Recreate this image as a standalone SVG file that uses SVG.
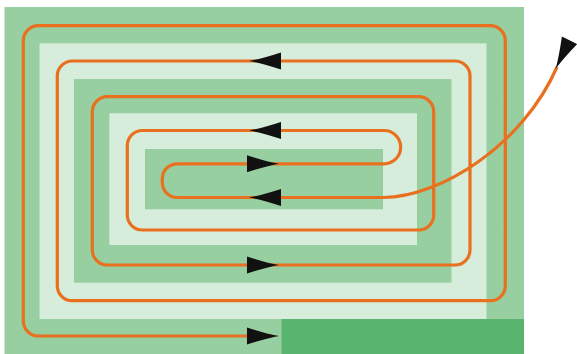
<svg xmlns="http://www.w3.org/2000/svg" width="577" height="354" viewBox="0 0 577 354">
  <style>
    .mid { fill: #97cfa0; }
    .light { fill: #d6eddb; }
    .dark { fill: #58b46f; }
    .pipe { fill: none; stroke: #e8701f; stroke-width: 3.2; stroke-linejoin: round; stroke-linecap: butt; }
    .arrow { fill: #111111; }
  </style>
  <defs>
    <path id="ah" d="M-32,-8.5 Q-12,-2 0,0 Q-12,2 -32,8.5 Z"/>
  </defs>
  <rect width="577" height="354" fill="#ffffff"/>
  <g id="floor">
    <rect class="mid" x="4.5" y="7" width="519.5" height="347"/>
    <rect class="light" x="39.5" y="43.3" width="447" height="275.7"/>
    <rect class="mid" x="74" y="79" width="377.5" height="203.7"/>
    <rect class="light" x="109.3" y="113.3" width="307.7" height="131.7"/>
    <rect class="mid" x="145" y="149" width="238" height="60.3"/>
    <rect class="dark" x="281.5" y="319" width="242.5" height="35"/>
  </g>
  <g id="connectors">
    <path class="pipe" d="M557,67 C523,145 440,197.5 383,197.5
      L177.3,197.5 A15,15 0 0 1 162.3,182.5 L162.3,178.8 A15,15 0 0 1 177.3,163.8
      L384,163.8 A16.65,16.65 0 0 0 384,130.5
      L142.3,130.5 A15,15 0 0 0 127.3,145.5 L127.3,215 A15,15 0 0 0 142.3,230
      L418.7,230 A15,15 0 0 0 433.7,215 L433.7,111.7 A15,15 0 0 0 418.7,96.7
      L107.3,96.7 A15,15 0 0 0 92.3,111.7 L92.3,250 A15,15 0 0 0 107.3,265
      L455,265 A15,15 0 0 0 470,250 L470,76 A15,15 0 0 0 455,61
      L72.3,61 A15,15 0 0 0 57.3,76 L57.3,285.7 A15,15 0 0 0 72.3,300.7
      L490.3,300.7 A15,15 0 0 0 505.3,285.7 L505.3,40.7 A15,15 0 0 0 490.3,25.7
      L38.3,25.7 A15,15 0 0 0 23.3,40.7 L23.3,321 A15,15 0 0 0 38.3,336
      L272,336"/>
    <g id="arrows">
      <use href="#ah" class="arrow" transform="translate(249,61) scale(-1,1)"/>
      <use href="#ah" class="arrow" transform="translate(249,130.5) scale(-1,1)"/>
      <use href="#ah" class="arrow" transform="translate(279,163.8)"/>
      <use href="#ah" class="arrow" transform="translate(249,197.5) scale(-1,1)"/>
      <use href="#ah" class="arrow" transform="translate(279,265)"/>
      <use href="#ah" class="arrow" transform="translate(279,336)"/>
      <use href="#ah" class="arrow" transform="translate(555.5,69) rotate(116)"/>
    </g>
  </g>
</svg>
